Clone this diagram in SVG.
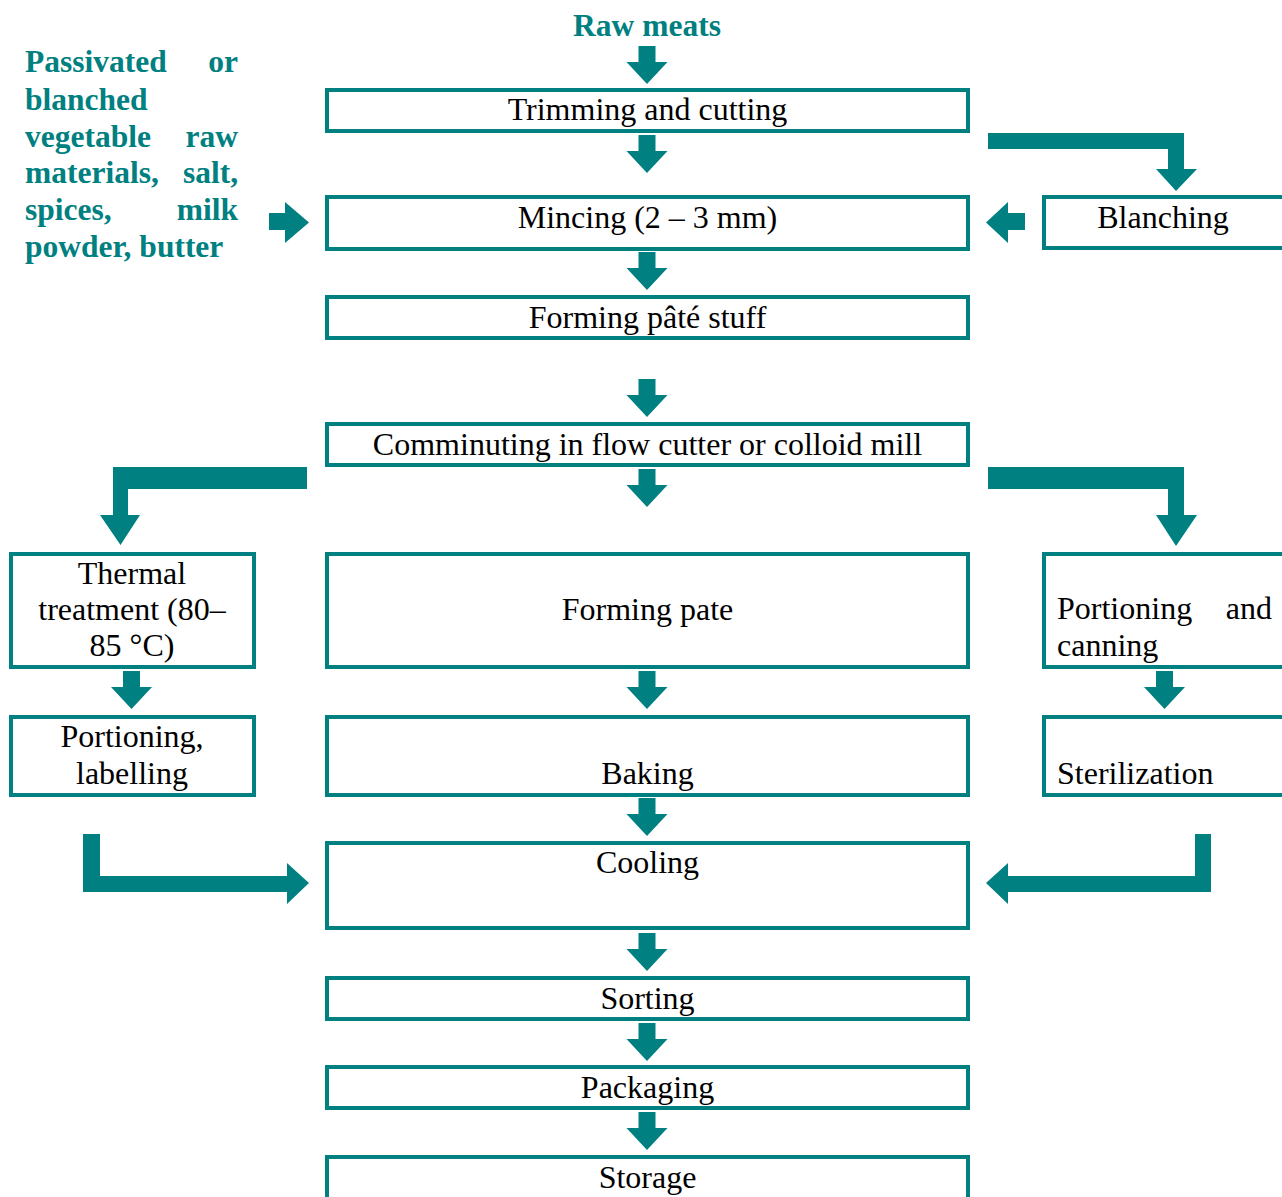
<svg xmlns="http://www.w3.org/2000/svg" xmlns:xlink="http://www.w3.org/1999/xlink" width="1282" height="1197" viewBox="0 0 1282 1197">
<style>
.box{fill:#fff;stroke:#008080;stroke-width:4}
.t{font-family:"Liberation Serif","Times New Roman",serif;font-size:32px;fill:#000}
.c{text-anchor:middle}
.e{text-anchor:end}
.g{font-family:"Liberation Serif","Times New Roman",serif;font-size:31.5px;font-weight:bold;fill:#008080}
.arr{fill:#008080;stroke:none}
</style>
<defs>
<path id="down" d="M-8.5,0 H8.5 V16 H20.5 L0,38 L-20.5,16 H-8.5 Z"/>
</defs>
<rect width="1282" height="1197" fill="#fff"/>

<g id="connectors" class="arr">
<use xlink:href="#down" x="647" y="46"/>
<use xlink:href="#down" x="647" y="135"/>
<use xlink:href="#down" x="647" y="252"/>
<use xlink:href="#down" x="647" y="379"/>
<use xlink:href="#down" x="647" y="469"/>
<use xlink:href="#down" x="647" y="671"/>
<use xlink:href="#down" x="647" y="798"/>
<use xlink:href="#down" x="647" y="933"/>
<use xlink:href="#down" x="647" y="1023"/>
<use xlink:href="#down" x="647" y="1112"/>
<use xlink:href="#down" x="131.5" y="671"/>
<use xlink:href="#down" x="1164.5" y="671"/>
<path d="M269,213 H285 V202 L309,222.5 L285,243 V230 H269 Z"/>
<path d="M1025,213 H1008 V202 L986,222.5 L1008,243 V230 H1025 Z"/>
<path d="M988,133 H1184 V169 H1197 L1176,191 L1156,169 H1168 V149 H988 Z"/>
<path d="M307,467 V489 H128 V515 H140 L120.5,545 L100,515 H113 V467 Z"/>
<path d="M988,467 H1184 V515 H1197 L1176,546 L1156,515 H1168 V489 H988 Z"/>
<path d="M83,834 H100 V876 H287 V863 L309,883 L287,904 V892 H83 Z"/>
<path d="M1211,834 V892 H1008 V904 L986,883 L1008,863 V876 H1195 V834 Z"/>
</g>

<g id="raw-meats"><text class="g c" x="647" y="36">Raw meats</text></g>

<g id="additives">
<text class="g" x="25" y="72">Passivated</text><text class="g e" x="238" y="72">or</text>
<text class="g" x="25" y="110">blanched</text>
<text class="g" x="25" y="147">vegetable</text><text class="g e" x="238" y="147">raw</text>
<text class="g" x="25" y="183">materials,</text><text class="g e" x="238" y="183">salt,</text>
<text class="g" x="25" y="220">spices,</text><text class="g e" x="238" y="220">milk</text>
<text class="g" x="25" y="257">powder, butter</text>
</g>

<g id="trimming"><rect class="box" x="327" y="90" width="641" height="41"/><text class="t c" x="647.5" y="120">Trimming and cutting</text></g>
<g id="mincing"><rect class="box" x="327" y="197" width="641" height="52"/><text class="t c" x="647.5" y="228">Mincing (2 – 3 mm)</text></g>
<g id="blanching"><rect class="box" x="1044" y="197" width="250" height="51"/><text class="t c" x="1163" y="228">Blanching</text></g>
<g id="forming-stuff"><rect class="box" x="327" y="297" width="641" height="41"/><text class="t c" x="647.5" y="328">Forming pâté stuff</text></g>
<g id="comminuting"><rect class="box" x="327" y="424" width="641" height="41"/><text class="t c" x="647.5" y="455">Comminuting in flow cutter or colloid mill</text></g>
<g id="thermal"><rect class="box" x="11" y="554" width="243" height="113"/>
<text class="t c" x="132" y="584">Thermal</text><text class="t c" x="132" y="620">treatment (80–</text><text class="t c" x="132" y="656">85 °C)</text></g>
<g id="forming-pate"><rect class="box" x="327" y="554" width="641" height="113"/><text class="t c" x="647.5" y="620">Forming pate</text></g>
<g id="portioning-canning"><rect class="box" x="1044" y="554" width="250" height="113"/>
<text class="t" x="1057" y="619">Portioning</text><text class="t e" x="1272" y="619">and</text><text class="t" x="1057" y="656">canning</text></g>
<g id="portioning-labelling"><rect class="box" x="11" y="717" width="243" height="78"/>
<text class="t c" x="132" y="747">Portioning,</text><text class="t c" x="132" y="784">labelling</text></g>
<g id="baking"><rect class="box" x="327" y="717" width="641" height="78"/><text class="t c" x="647.5" y="784">Baking</text></g>
<g id="sterilization"><rect class="box" x="1044" y="717" width="250" height="78"/><text class="t" x="1057" y="784">Sterilization</text></g>
<g id="cooling"><rect class="box" x="327" y="843" width="641" height="85"/><text class="t c" x="647.5" y="873">Cooling</text></g>
<g id="sorting"><rect class="box" x="327" y="978" width="641" height="41"/><text class="t c" x="647.5" y="1009">Sorting</text></g>
<g id="packaging"><rect class="box" x="327" y="1067" width="641" height="41"/><text class="t c" x="647.5" y="1098">Packaging</text></g>
<g id="storage"><rect class="box" x="327" y="1157" width="641" height="42"/><text class="t c" x="647.5" y="1188">Storage</text></g>
</svg>
